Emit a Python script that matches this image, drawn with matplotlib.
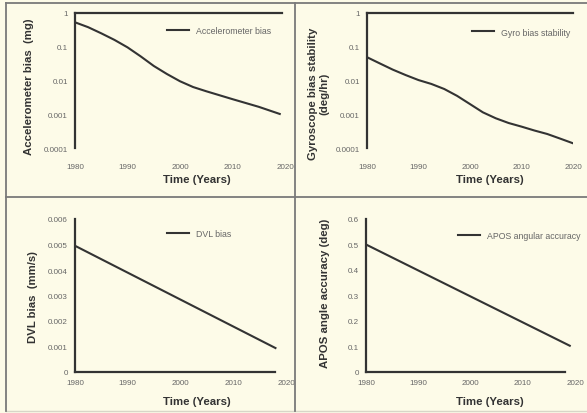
import matplotlib
matplotlib.use('Agg')
import matplotlib.pyplot as plt
from matplotlib.lines import Line2D

W, H = 587, 414

# readings from the picture
years_acc = [1980, 1982.5, 1985, 1987.5, 1990, 1992.5, 1995, 1997.5, 2000, 2002.5,
             2005, 2010, 2015, 2019]
acc_bias = [0.53, 0.38, 0.25, 0.16, 0.096, 0.052, 0.027, 0.0156, 0.0095, 0.0064,
            0.0048, 0.0028, 0.00166, 0.00102]

years_gyro = [1980, 1982.5, 1985, 1987.5, 1990, 1992.5, 1995, 1997.5, 2000, 2002.5,
              2005, 2007.5, 2010, 2012.5, 2015, 2017.5, 2020]
gyro_bias = [0.049, 0.032, 0.021, 0.0145, 0.0103, 0.0079, 0.0056, 0.0035, 0.002, 0.00114,
             0.00076, 0.00055, 0.00043, 0.00033, 0.00026, 0.00019, 0.000138]

years_dvl = [1980, 2018]
dvl_bias = [0.00495, 0.00094]

years_apos = [1980, 2019]
apos_acc = [0.50, 0.103]

year_ticks = [1980, 1990, 2000, 2010, 2020]
log_ticks = [0.0001, 0.001, 0.01, 0.1, 1]
log_labels = ['0.0001', '0.001', '0.01', '0.1', '1']
dvl_ticks = [0, 0.001, 0.002, 0.003, 0.004, 0.005, 0.006]
dvl_labels = ['0', '0.001', '0.002', '0.003', '0.004', '0.005', '0.006']
apos_ticks = [0, 0.1, 0.2, 0.3, 0.4, 0.5, 0.6]
apos_labels = ['0', '0.1', '0.2', '0.3', '0.4', '0.5', '0.6']

bg = '#fdfbe8'
dark = '#333333'
grey = '#666666'

plt.rcParams['font.family'] = ['Liberation Sans', 'DejaVu Sans']


def fx(x):
    return x / W


def fy(y):
    return 1 - y / H


def box(l, r, t, b):
    return [fx(l), fy(b), fx(r) - fx(l), fy(t) - fy(b)]


fig = plt.figure(figsize=(W / 100, H / 100), dpi=100)
fig.patch.set_facecolor(bg)

# panel frame lines
for y in [4, 198]:
    fig.add_artist(Line2D([fx(6), 1], [fy(y), fy(y)], color='#7a7a7a', lw=1.3))
fig.add_artist(Line2D([fx(6), 1], [fy(412), fy(412)], color='#d8d6c8', lw=1.0))
for x in [6, 295]:
    fig.add_artist(Line2D([fx(x), fx(x)], [fy(4), fy(412)], color='#7a7a7a', lw=1.3))


def style(ax, xend, log_top, tick_pad):
    ax.set_facecolor(bg)
    ax.set_xlim(1980, 2020)
    ax.set_xticks(year_ticks)
    ax.set_xticklabels([str(y) for y in year_ticks])
    ax.tick_params(length=0, labelsize=5.8, labelcolor=grey)
    ax.tick_params(axis='x', pad=tick_pad)
    ax.tick_params(axis='y', pad=5)
    ax.spines['right'].set_visible(False)
    ax.spines['left'].set_color(dark)
    ax.spines['left'].set_linewidth(1.6)
    if log_top:
        ax.spines['bottom'].set_visible(False)
        sp = ax.spines['top']
    else:
        ax.spines['top'].set_visible(False)
        sp = ax.spines['bottom']
    sp.set_color(dark)
    sp.set_linewidth(1.6)
    sp.set_bounds(1980, xend)


def labels(ax, ytext, xlab_xy, ylab_xy):
    ax.set_xlabel('Time (Years)', fontsize=8.2, fontweight='bold', color=dark, va='center')
    ax.xaxis.set_label_coords(fx(xlab_xy[0]), fy(xlab_xy[1]), transform=fig.transFigure)
    ax.set_ylabel(ytext, fontsize=8.2, fontweight='bold', color=dark, va='center',
                  ha='center', linespacing=1.15)
    ax.yaxis.set_label_coords(fx(ylab_xy[0]), fy(ylab_xy[1]), transform=fig.transFigure)


def add_legend(ax, x, y):
    ax.legend(loc='center left', bbox_to_anchor=(fx(x), fy(y)), bbox_transform=fig.transFigure,
              frameon=False, fontsize=6.3, labelcolor=grey, handlelength=2.5,
              handletextpad=0.8, borderpad=0, borderaxespad=0)


# top left
ax1 = fig.add_axes(box(75, 285, 14, 149))
ax1.plot(years_acc, acc_bias, color=dark, lw=1.5, label='Accelerometer bias')
ax1.set_yscale('log')
ax1.set_ylim(0.0001, 1)
ax1.set_yticks(log_ticks)
ax1.set_yticklabels(log_labels)
ax1.minorticks_off()
style(ax1, 2019.5, True, 11)
labels(ax1, 'Accelerometer bias  (mg)', (197, 180), (29, 87))
add_legend(ax1, 167, 32)

# top right
ax2 = fig.add_axes(box(367, 573, 14, 149))
ax2.plot(years_gyro, gyro_bias, color=dark, lw=1.5, label='Gyro bias stability')
ax2.set_yscale('log')
ax2.set_ylim(0.0001, 1)
ax2.set_yticks(log_ticks)
ax2.set_yticklabels(log_labels)
ax2.minorticks_off()
style(ax2, 2020, True, 11)
labels(ax2, 'Gyroscope bias stability\n(deg/hr)', (490, 180), (318.5, 94))
add_legend(ax2, 472, 33)

# bottom left
ax3 = fig.add_axes(box(75, 286, 220, 373))
ax3.plot(years_dvl, dvl_bias, color=dark, lw=1.5, label='DVL bias')
ax3.set_ylim(0, 0.006)
ax3.set_yticks(dvl_ticks)
ax3.set_yticklabels(dvl_labels)
style(ax3, 2018, False, 5)
labels(ax3, 'DVL bias  (mm/s)', (197, 402), (33, 297))
add_legend(ax3, 167, 235)

# bottom right
ax4 = fig.add_axes(box(366, 575, 220, 373))
ax4.plot(years_apos, apos_acc, color=dark, lw=1.5, label='APOS angular accuracy')
ax4.set_ylim(0, 0.6)
ax4.set_yticks(apos_ticks)
ax4.set_yticklabels(apos_labels)
style(ax4, 2018, False, 5)
labels(ax4, 'APOS angle accuracy (deg)', (490, 402), (325, 293))
add_legend(ax4, 458, 237)

fig.savefig('out.png', dpi=100, facecolor=bg)
